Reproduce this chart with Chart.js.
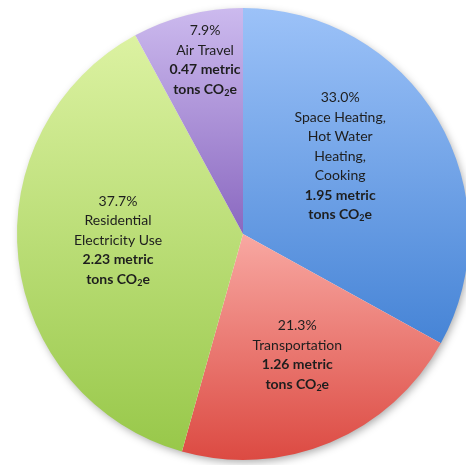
<!DOCTYPE html>
<html>
<head>
<meta charset="utf-8">
<script src="https://cdn.jsdelivr.net/npm/chart.js@4.4.1/dist/chart.umd.min.js"></script>
<style>
  html, body { margin: 0; padding: 0; background: #fff; overflow: hidden; }
  #wrap { position: absolute; left: 0; top: 0; width: 476px; height: 465px; }
</style>
</head>
<body>
<div id="wrap"><canvas id="pieChart"></canvas></div>
<script>
const categories = [
  "Space Heating, Hot Water Heating, Cooking",
  "Transportation",
  "Residential Electricity Use",
  "Air Travel"
];
const labelLines = [
  ["Space Heating,", "Hot Water", "Heating,", "Cooking"],
  ["Transportation"],
  ["Residential", "Electricity Use"],
  ["Air Travel"]
];
const percentages = [33.0, 21.3, 37.7, 7.9];
const metricTons = [1.95, 1.26, 2.23, 0.47];

// gradient colours (light top, dark bottom) for each slice
const lightColors = ["#9cc2f8", "#f8a8a2", "#dcf2a2", "#ccbaee"];
const darkColors = ["#4684d6", "#dc4a42", "#98c84a", "#8a68c0"];
// label block centre relative to pie centre, in radius units
const labelOffsets = [[0.43, -0.345], [0.24, 0.535], [-0.553, 0.027], [-0.168, -0.77]];

function sliceYRange(y, r, a0, a1) {
  const ys = [y, y + Math.sin(a0) * r, y + Math.sin(a1) * r];
  [-Math.PI / 2, Math.PI / 2, Math.PI * 1.5].forEach(function (a) {
    if (a > a0 && a < a1) ys.push(y + Math.sin(a) * r);
  });
  return [Math.min.apply(null, ys), Math.max.apply(null, ys)];
}

function sliceColor(ctx) {
  const chart = ctx.chart;
  const area = chart.chartArea;
  const i = ctx.dataIndex;
  if (!area) return lightColors[i];
  const cy = (area.top + area.bottom) / 2;
  const r = Math.min(area.right - area.left, area.bottom - area.top) / 2;
  const total = percentages.reduce(function (s, v) { return s + v; }, 0);
  let before = 0;
  for (let k = 0; k < i; k++) before += percentages[k];
  const a0 = -Math.PI / 2 + (before / total) * Math.PI * 2;
  const a1 = a0 + (percentages[i] / total) * Math.PI * 2;
  const [y0, y1] = sliceYRange(cy, r, a0, a1);
  const g = chart.ctx.createLinearGradient(0, y0, 0, y1);
  g.addColorStop(0, lightColors[i]);
  g.addColorStop(1, darkColors[i]);
  return g;
}

const shadowPlugin = {
  id: "pieShadow",
  beforeDatasetsDraw(chart) {
    const arc = chart.getDatasetMeta(0).data[0];
    if (!arc) return;
    const c = chart.ctx;
    c.save();
    c.shadowColor = "rgba(0,0,0,0.35)";
    c.shadowBlur = 9;
    c.shadowOffsetX = 2;
    c.shadowOffsetY = 3;
    c.fillStyle = "#ffffff";
    c.beginPath();
    c.arc(arc.x, arc.y, arc.outerRadius - 1, 0, Math.PI * 2);
    c.fill();
    c.restore();
  }
};

const labelPlugin = {
  id: "sliceLabels",
  afterDatasetsDraw(chart) {
    const c = chart.ctx;
    const meta = chart.getDatasetMeta(0);
    const lineH = 19.5;
    const font = "Lato, 'Open Sans', sans-serif";
    meta.data.forEach(function (arc, i) {
      const lines = [{ t: percentages[i].toFixed(1) + "%", bold: false }];
      labelLines[i].forEach(function (t) { lines.push({ t: t, bold: false }); });
      lines.push({ t: metricTons[i].toFixed(2) + " metric", bold: true });
      lines.push({ t: "CO2", bold: true, co2: true });
      const cx = arc.x + labelOffsets[i][0] * arc.outerRadius;
      const cy = arc.y + labelOffsets[i][1] * arc.outerRadius;
      const top = cy - (lines.length - 1) * lineH / 2;
      c.save();
      c.fillStyle = "#1e1e1e";
      c.textBaseline = "middle";
      lines.forEach(function (ln, k) {
        const y = top + k * lineH;
        const f = (ln.bold ? "bold " : "") + "14px " + font;
        if (!ln.co2) {
          c.font = f;
          c.textAlign = "center";
          c.fillText(ln.t, cx, y);
        } else {
          const subF = "bold 9px " + font;
          c.font = f;
          const w1 = c.measureText("tons CO").width;
          const w3 = c.measureText("e").width;
          c.font = subF;
          const w2 = c.measureText("2").width;
          let x = cx - (w1 + w2 + w3) / 2;
          c.textAlign = "left";
          c.font = f;
          c.fillText("tons CO", x, y);
          x += w1;
          c.font = subF;
          c.fillText("2", x, y + 4);
          x += w2;
          c.font = f;
          c.fillText("e", x, y);
        }
      });
      c.restore();
    });
  }
};

new Chart(document.getElementById("pieChart"), {
  type: "pie",
  data: {
    labels: categories,
    datasets: [{
      data: percentages,
      backgroundColor: sliceColor,
      borderWidth: 0
    }]
  },
  options: {
    responsive: true,
    maintainAspectRatio: false,
    animation: false,
    layout: { padding: { left: 17, right: 7, top: 8, bottom: 5 } },
    plugins: {
      legend: { display: false },
      tooltip: { enabled: false }
    }
  },
  plugins: [shadowPlugin, labelPlugin]
});
</script>
</body>
</html>
